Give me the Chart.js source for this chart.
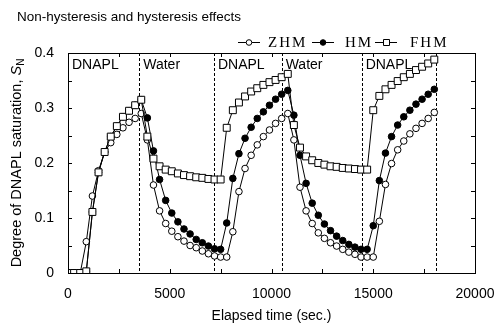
<!DOCTYPE html>
<html>
<head>
<meta charset="utf-8">
<script src="https://cdn.jsdelivr.net/npm/chart.js@4.4.0/dist/chart.umd.min.js"></script>
<style>
  body { margin: 0; background: #fff; }
  #graph { display: block; }
</style>
</head>
<body>
<canvas id="graph" width="500" height="329"></canvas>
<script>
// elapsed time (sec.), a reading every 300 s
const times = [0, 300, 600, 900, 1200, 1500, 1800, 2100, 2400, 2700, 3000, 3300, 3600,
  3900, 4200, 4500, 4800, 5100, 5400, 5700, 6000, 6300, 6600, 6900, 7200, 7500,
  7800, 8100, 8400, 8700, 9000, 9300, 9600, 9900, 10200, 10500, 10800,
  11100, 11400, 11700, 12000, 12300, 12600, 12900, 13200, 13500, 13800, 14100, 14400, 14700,
  15000, 15300, 15600, 15900, 16200, 16500, 16800, 17100, 17400, 17700, 18000]

// degree of DNAPL saturation S_N
const zhm = [0, 0, 0, 0.057, 0.140, 0.186, 0.220, 0.237, 0.252, 0.264, 0.274, 0.281, 0.290,
  0.242, 0.160, 0.113, 0.090, 0.076, 0.066, 0.058, 0.050, 0.046, 0.040, 0.035, 0.031, 0.029,
  0.029, 0.075, 0.148, 0.190, 0.214, 0.233, 0.248, 0.260, 0.272, 0.281, 0.290,
  0.242, 0.156, 0.113, 0.090, 0.073, 0.063, 0.055, 0.049, 0.043, 0.038, 0.034, 0.029, 0.029,
  0.029, 0.094, 0.161, 0.199, 0.224, 0.240, 0.253, 0.263, 0.272, 0.281, 0.292]

const hm = [0, 0, 0, 0.003, 0.111, 0.183, 0.220, 0.248, 0.267, 0.284, 0.295, 0.305, 0.315,
  0.282, 0.222, 0.170, 0.132, 0.109, 0.093, 0.080, 0.071, 0.061, 0.055, 0.049, 0.044, 0.043,
  0.091, 0.172, 0.217, 0.245, 0.265, 0.281, 0.293, 0.305, 0.316, 0.325, 0.332,
  0.287, 0.214, 0.163, 0.127, 0.105, 0.089, 0.077, 0.067, 0.059, 0.052, 0.047, 0.043, 0.043,
  0.086, 0.168, 0.218, 0.248, 0.269, 0.284, 0.296, 0.307, 0.316, 0.325, 0.334]

const fhm = [0, 0, 0, 0.003, 0.111, 0.183, 0.220, 0.248, 0.267, 0.284, 0.295, 0.305, 0.315,
  0.248, 0.208, 0.194, 0.188, 0.185, 0.181, 0.178, 0.176, 0.174, 0.173, 0.171, 0.170, 0.170,
  0.264, 0.296, 0.310, 0.321, 0.330, 0.336, 0.342, 0.347, 0.351, 0.356, 0.362,
  0.269, 0.228, 0.212, 0.205, 0.200, 0.197, 0.194, 0.193, 0.191, 0.190, 0.189, 0.188, 0.188,
  0.296, 0.322, 0.334, 0.342, 0.349, 0.356, 0.362, 0.369, 0.375, 0.381, 0.388]

// injected fluid and the time the injection switched
const phases = ['DNAPL', 'Water', 'DNAPL', 'Water', 'DNAPL']
const switchTimes = [3500, 7170, 10500, 14430, 18070]

const xTicks = [0, 5000, 10000, 15000, 20000]
const xMarks = [2500, 5000, 7500, 10000, 12500, 15000, 17500]
const yTicks = [0, 0.1, 0.2, 0.3, 0.4]
const yMarks = [0.05, 0.1, 0.15, 0.2, 0.25, 0.3, 0.35]

const sans = "'Liberation Sans', Arial, sans-serif"
const serif = "'Liberation Serif', 'Times New Roman', serif"

const pts = arr => times.map((t, i) => ({x: t, y: arr[i]}))

const series = [
  {label: 'ZHM', data: zhm, fill: '#fff', style: 'circle', r: 3.3, order: 1},
  {label: 'HM', data: hm, fill: '#000', style: 'circle', r: 3.3, order: 2},
  {label: 'FHM', data: fhm, fill: '#fff', style: 'rect', r: 4.9, order: 0}
]

// box, inward ticks, legend, labels
const decor = {
  id: 'decor',
  beforeDatasetsDraw(chart) {
    const {ctx, chartArea: a, scales: {x}} = chart
    ctx.save()
    ctx.strokeStyle = '#000'
    ctx.lineWidth = 1
    ctx.setLineDash([3, 2])
    switchTimes.forEach(t => {
      const px = Math.round(x.getPixelForValue(t)) + 0.5
      ctx.beginPath()
      ctx.moveTo(px, a.top)
      ctx.lineTo(px, a.bottom)
      ctx.stroke()
    })
    ctx.setLineDash([])
    // phase names
    ctx.fillStyle = '#000'
    ctx.font = '14px ' + sans
    ctx.textBaseline = 'middle'
    const starts = [0].concat(switchTimes)
    phases.forEach((p, i) => {
      ctx.fillText(p, x.getPixelForValue(starts[i]) + 4, a.top + 12)
    })
    ctx.restore()
  },
  afterDraw(chart) {
    const {ctx, chartArea: a, scales: {x, y}} = chart
    ctx.save()
    ctx.strokeStyle = '#000'
    ctx.lineWidth = 1
    ctx.strokeRect(Math.round(a.left) + 0.5, Math.round(a.top) + 0.5,
      Math.round(a.right - a.left), Math.round(a.bottom - a.top))
    const tl = 4
    ctx.beginPath()
    xMarks.forEach(v => {
      const px = Math.round(x.getPixelForValue(v)) + 0.5
      ctx.moveTo(px, a.bottom); ctx.lineTo(px, a.bottom - tl)
      ctx.moveTo(px, a.top); ctx.lineTo(px, a.top + tl)
    })
    yMarks.forEach(v => {
      const py = Math.round(y.getPixelForValue(v)) + 0.5
      ctx.moveTo(a.left, py); ctx.lineTo(a.left + tl, py)
      ctx.moveTo(a.right, py); ctx.lineTo(a.right - tl, py)
    })
    ctx.stroke()

    // title
    ctx.fillStyle = '#000'
    ctx.font = '13.5px ' + sans
    ctx.textBaseline = 'middle'
    ctx.fillText('Non-hysteresis and hysteresis effects', 17, 17)

    // legend
    const spots = [[238, 268], [312, 345], [375, 410]]
    ctx.font = '15px ' + serif
    ctx.letterSpacing = '2px'
    series.forEach((s, i) => {
      const [lx, tx] = spots[i]
      const ly = 42
      ctx.beginPath()
      ctx.moveTo(lx, ly + 0.5); ctx.lineTo(lx + 22, ly + 0.5)
      ctx.stroke()
      ctx.fillStyle = s.fill
      ctx.beginPath()
      if (s.style === 'rect') ctx.rect(lx + 8.5, ly - 2.5, 6, 6)
      else ctx.arc(lx + 11, ly + 0.5, 2.8, 0, Math.PI * 2)
      ctx.fill(); ctx.stroke()
      ctx.fillStyle = '#000'
      ctx.fillText(s.label, tx, ly + 1)
    })
    ctx.letterSpacing = '0px'

    // y title with italic S and subscript N
    ctx.translate(17, (a.top + a.bottom) / 2)
    ctx.rotate(-Math.PI / 2)
    const main = 'Degree of DNAPL saturation, '
    ctx.font = '14.5px ' + sans
    const w1 = ctx.measureText(main).width
    ctx.font = 'italic 14.5px ' + sans
    const w2 = ctx.measureText('S').width
    ctx.font = '10px ' + sans
    const w3 = ctx.measureText('N').width
    let cx = -(w1 + w2 + w3) / 2
    ctx.font = '14.5px ' + sans
    ctx.fillText(main, cx, 0)
    cx += w1
    ctx.font = 'italic 14.5px ' + sans
    ctx.fillText('S', cx, 0)
    cx += w2
    ctx.font = '10px ' + sans
    ctx.fillText('N', cx, 4)
    ctx.restore()
  }
}

const ctx = document.getElementById('graph').getContext('2d')

new Chart(ctx, {
  type: 'line',
  data: {
    datasets: series.map(s => ({
      label: s.label,
      data: pts(s.data),
      order: s.order,
      borderColor: '#000',
      borderWidth: 1,
      pointStyle: s.style,
      pointRadius: s.r,
      pointBorderWidth: 1,
      pointBorderColor: '#000',
      pointBackgroundColor: s.fill,
      tension: 0
    }))
  },
  options: {
    responsive: false,
    animation: false,
    layout: {padding: {top: 53, right: 25, left: 0, bottom: 0}},
    plugins: {legend: {display: false}, tooltip: {enabled: false}},
    scales: {
      x: {
        type: 'linear',
        min: 0, max: 20000,
        afterBuildTicks: s => { s.ticks = xTicks.map(v => ({value: v})) },
        afterFit: s => { s.height = 56 },
        grid: {display: false},
        border: {display: false},
        ticks: {
          color: '#000', padding: 5, maxRotation: 0,
          font: {family: sans, size: 14},
          callback: v => String(v)
        },
        title: {
          display: true, text: 'Elapsed time (sec.)', color: '#000',
          font: {family: sans, size: 14}, padding: {top: 2}
        }
      },
      y: {
        min: 0, max: 0.4,
        afterBuildTicks: s => { s.ticks = yTicks.map(v => ({value: v})) },
        afterFit: s => { s.width = 68 },
        grid: {display: false},
        border: {display: false},
        ticks: {
          color: '#000', padding: 6,
          font: {family: sans, size: 14},
          callback: v => String(v)
        }
      }
    }
  },
  plugins: [decor]
})
</script>
</body>
</html>
